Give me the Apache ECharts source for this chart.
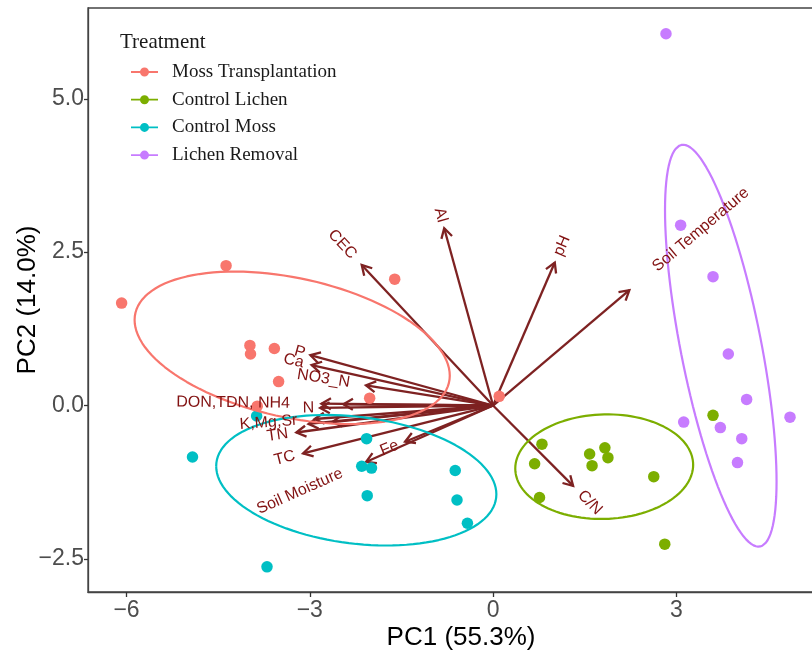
<!DOCTYPE html>
<html>
<head>
<meta charset="utf-8">
<title>PCA biplot by treatment</title>
<script src="https://cdn.jsdelivr.net/npm/echarts@6/dist/echarts.min.js"></script>
<style>
  html, body { margin: 0; padding: 0; background: #ffffff; }
  #chart { width: 812px; height: 656px; }
</style>
</head>
<body>
<div id="chart"></div>
<script>
// ---- Sample scores (PC1, PC2) for each treatment ----
const groupNames = ['Moss Transplantation', 'Control Lichen', 'Control Moss', 'Lichen Removal'];
const groupColors = ['#F8766D', '#7CAE00', '#00BFC4', '#C77CFF'];

const mossTransplantationPC1 = [-6.08, -4.37, -1.61, -3.98, -3.97, -3.58, -3.51, -3.86, -2.02, 0.10];
const mossTransplantationPC2 = [1.67, 2.28, 2.06, 0.98, 0.84, 0.93, 0.39, -0.01, 0.12, 0.15];

const controlLichenPC1 = [0.80, 0.68, 0.76, 1.58, 1.83, 1.88, 1.62, 2.63, 3.60, 2.81];
const controlLichenPC2 = [-0.63, -0.95, -1.50, -0.79, -0.69, -0.85, -0.98, -1.16, -0.16, -2.26];

const controlMossPC1 = [-3.87, -4.92, -2.07, -2.15, -1.99, -2.06, -0.62, -0.59, -0.42, -3.70];
const controlMossPC2 = [-0.17, -0.84, -0.54, -0.99, -1.02, -1.47, -1.06, -1.54, -1.92, -2.63];

const lichenRemovalPC1 = [2.83, 3.07, 3.60, 3.85, 4.15, 3.12, 3.72, 4.07, 4.00, 4.86];
const lichenRemovalPC2 = [6.06, 2.94, 2.10, 0.84, 0.10, -0.27, -0.36, -0.54, -0.93, -0.19];

// ---- Variable loadings (arrow ends); an empty label leaves an arrow unnamed ----
const loadingLabels = ['CEC', 'Al', 'pH', 'Soil Temperature', 'C/N', 'P', 'Ca', 'NO3_N',
  'DON,TDN, NH4', '', 'N', '', 'K,Mg,Sr', '', 'TN', 'TC', 'Fe', 'Soil Moisture'];
const loadingPC1 = [-2.15, -0.80, 1.01, 2.23, 1.31, -2.99, -2.97, -2.08,
  -2.81, -2.45, -2.83, -2.63, -2.92, -3.02, -3.22, -3.11, -1.44, -2.08];
const loadingPC2 = [2.29, 2.89, 2.33, 1.88, -1.31, 0.82, 0.66, 0.33,
  0.03, 0.02, -0.04, -0.27, -0.22, -0.30, -0.44, -0.78, -0.59, -0.92];

// ---- Axis ticks ----
const pc1Ticks = [-6, -3, 0, 3];
const pc2Ticks = [-2.5, 0, 2.5, 5];
const ellipseProb = 0.68;

const groupPC1 = [mossTransplantationPC1, controlLichenPC1, controlMossPC1, lichenRemovalPC1];
const groupPC2 = [mossTransplantationPC2, controlLichenPC2, controlMossPC2, lichenRemovalPC2];

// Normal concentration ellipse: mean + sqrt(chi2_2(p)) * circle %*% chol(cov)
function concentrationEllipse(xs, ys, prob) {
  const n = xs.length;
  const mx = xs.reduce((a, b) => a + b, 0) / n;
  const my = ys.reduce((a, b) => a + b, 0) / n;
  let sxx = 0, syy = 0, sxy = 0;
  for (let i = 0; i < n; i++) {
    const dx = xs[i] - mx, dy = ys[i] - my;
    sxx += dx * dx; syy += dy * dy; sxy += dx * dy;
  }
  sxx /= (n - 1); syy /= (n - 1); sxy /= (n - 1);
  const ed = Math.sqrt(-2 * Math.log(1 - prob));
  const r11 = Math.sqrt(sxx);
  const r12 = sxy / r11;
  const r22 = Math.sqrt(syy - r12 * r12);
  const pts = [];
  const segs = 120;
  for (let k = 0; k <= segs; k++) {
    const t = -Math.PI + 2 * Math.PI * k / segs;
    const c = Math.cos(t), s = Math.sin(t);
    pts.push([mx + ed * c * r11, my + ed * (c * r12 + s * r22)]);
  }
  return pts;
}

const measureCtx = document.createElement('canvas').getContext('2d');
const labelFont = '16px "Liberation Sans", Arial, sans-serif';
measureCtx.font = labelFont;
function textWidth(t) { return measureCtx.measureText(t).width; }

const arrowColor = '#7e2222';
const labelColor = '#821212';

const loadingData = loadingPC1.map((x, i) => [x, loadingPC2[i]]);

const series = [];

// Loading arrows
series.push({
  type: 'custom',
  name: 'loadings',
  z: 2,
  silent: true,
  data: loadingData,
  renderItem: function (params, api) {
    const o = api.coord([0, 0]);
    const t = api.coord([api.value(0), api.value(1)]);
    const dx = t[0] - o[0], dy = t[1] - o[1];
    const L = Math.hypot(dx, dy);
    const bx = -dx / L, by = -dy / L;
    const h = 11, a = Math.PI / 6;
    const ca = Math.cos(a), sa = Math.sin(a);
    const p1 = [t[0] + h * (bx * ca - by * sa), t[1] + h * (bx * sa + by * ca)];
    const p2 = [t[0] + h * (bx * ca + by * sa), t[1] + h * (-bx * sa + by * ca)];
    return {
      type: 'group',
      children: [
        { type: 'line', shape: { x1: o[0], y1: o[1], x2: t[0], y2: t[1] },
          style: { stroke: arrowColor, lineWidth: 2.3 } },
        { type: 'polyline', shape: { points: [p1, t, p2] },
          style: { stroke: arrowColor, lineWidth: 2.3, fill: null } }
      ]
    };
  }
});

// Sample points
groupNames.forEach((name, g) => {
  series.push({
    type: 'scatter',
    name: name,
    z: 3,
    symbol: 'circle',
    symbolSize: 11.5,
    itemStyle: { color: groupColors[g], opacity: 1 },
    data: groupPC1[g].map((x, i) => [x, groupPC2[g][i]])
  });
});

// Concentration ellipses
groupNames.forEach((name, g) => {
  series.push({
    type: 'line',
    name: name + ' ellipse',
    z: 4,
    silent: true,
    showSymbol: false,
    symbol: 'none',
    smooth: false,
    lineStyle: { color: groupColors[g], width: 2.2 },
    data: concentrationEllipse(groupPC1[g], groupPC2[g], ellipseProb)
  });
});

// Loading labels, placed beyond the arrow ends along their direction
series.push({
  type: 'custom',
  name: 'loading labels',
  z: 5,
  silent: true,
  data: loadingData,
  renderItem: function (params, api) {
    const label = loadingLabels[params.dataIndex];
    if (!label) return null;
    const o = api.coord([0, 0]);
    const t = api.coord([api.value(0), api.value(1)]);
    const dx = t[0] - o[0], dy = t[1] - o[1];
    const L = Math.hypot(dx, dy);
    const ux = dx / L, uy = dy / L;
    const d = 0.75 * textWidth(label) + 3;
    return {
      type: 'text',
      x: t[0] + ux * d,
      y: t[1] + uy * d,
      rotation: Math.atan(-dy / dx),
      style: {
        text: label,
        fill: labelColor,
        font: labelFont,
        textAlign: 'center',
        textVerticalAlign: 'middle',
        align: 'center',
        verticalAlign: 'middle'
      }
    };
  }
});

const legendIcon = 'path://M0,3.6 H27 V5.4 H0 Z M9,4.5 A4.5,4.5 0 1,1 18,4.5 A4.5,4.5 0 1,1 9,4.5 Z';

const chart = echarts.init(document.getElementById('chart'), null, { renderer: 'canvas' });
chart.setOption({
  animation: false,
  backgroundColor: '#ffffff',
  title: {
    text: 'Treatment',
    left: 120,
    top: 32,
    padding: 0,
    textStyle: { fontFamily: '"Liberation Serif", "Times New Roman", serif', fontSize: 21, fontWeight: 'normal', color: '#1a1a1a' }
  },
  legend: {
    data: groupNames,
    orient: 'vertical',
    left: 131,
    top: 61.5,
    padding: 0,
    itemWidth: 27,
    itemHeight: 9,
    itemGap: 6.7,
    icon: legendIcon,
    selectedMode: false,
    textStyle: {
      fontFamily: '"Liberation Serif", "Times New Roman", serif',
      fontSize: 19,
      color: '#1a1a1a',
      lineHeight: 21,
      padding: [0, 0, 0, 9]
    }
  },
  grid: {
    left: 88,
    right: -22,
    top: 8,
    bottom: 64,
    show: true,
    borderColor: '#444444',
    borderWidth: 1.3,
    containLabel: false,
    outerBoundsMode: 'none'
  },
  xAxis: {
    type: 'value',
    min: -6.63,
    max: 5.58,
    name: 'PC1 (55.3%)',
    nameLocation: 'middle',
    nameGap: 33,
    nameMoveOverlap: false,
    nameTextStyle: { fontFamily: '"Liberation Sans", Arial, sans-serif', fontSize: 26, color: '#000' },
    axisLine: { show: true, onZero: false, lineStyle: { color: '#444444', width: 1.3 } },
    axisTick: { show: true, length: 5, customValues: pc1Ticks, lineStyle: { color: '#333', width: 1.3 } },
    axisLabel: {
      customValues: pc1Ticks,
      color: '#4d4d4d',
      fontFamily: '"Liberation Sans", Arial, sans-serif',
      fontSize: 23,
      margin: 7,
      formatter: v => (v < 0 ? '\u2212' : '') + Math.abs(v)
    },
    splitLine: { show: false }
  },
  yAxis: {
    type: 'value',
    min: -3.04,
    max: 6.48,
    name: 'PC2 (14.0%)',
    nameLocation: 'middle',
    nameGap: 47,
    nameRotate: 90,
    nameMoveOverlap: false,
    nameTextStyle: { fontFamily: '"Liberation Sans", Arial, sans-serif', fontSize: 26, color: '#000' },
    axisLine: { show: true, onZero: false, lineStyle: { color: '#444444', width: 1.3 } },
    axisTick: { show: true, length: 4, customValues: pc2Ticks, lineStyle: { color: '#333', width: 1.3 } },
    axisLabel: {
      customValues: pc2Ticks,
      color: '#4d4d4d',
      fontFamily: '"Liberation Sans", Arial, sans-serif',
      fontSize: 23,
      margin: 4,
      formatter: v => (v < 0 ? '\u2212' : '') + Math.abs(v).toFixed(1)
    },
    splitLine: { show: false }
  },
  series: series
});
</script>
</body>
</html>
